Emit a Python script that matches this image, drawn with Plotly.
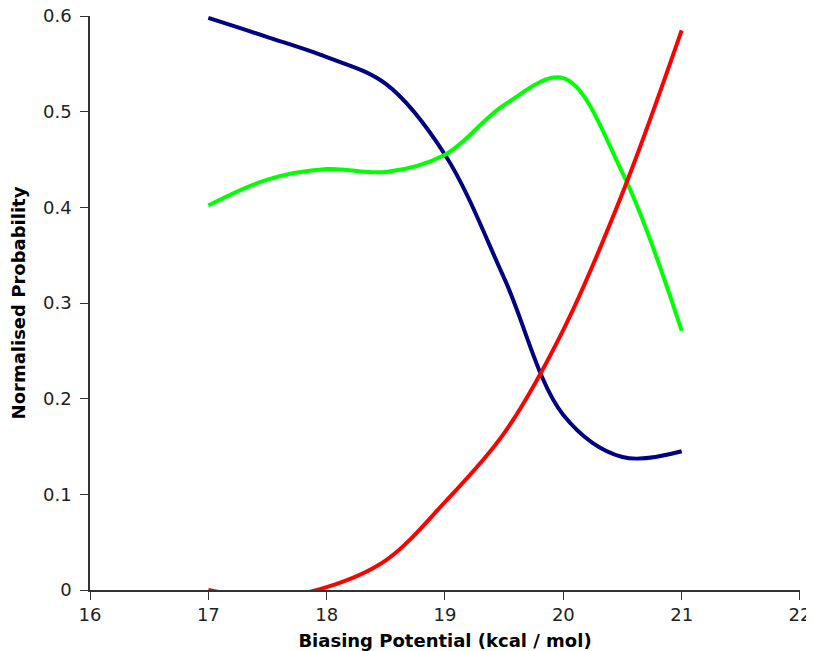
import plotly.graph_objects as go

x_vals = [17, 17.5, 18, 18.5, 19, 19.5, 20, 20.5, 21]
blue_vals = [0.598, 0.578, 0.557, 0.529, 0.455, 0.326, 0.183, 0.139, 0.145]
green_vals = [0.402, 0.429, 0.440, 0.437, 0.455, 0.507, 0.535, 0.436, 0.271]
red_vals = [0.0, -0.008, 0.003, 0.031, 0.092, 0.164, 0.272, 0.415, 0.585]

x_ticks = [16, 17, 18, 19, 20, 21, 22]
y_ticks = [0, 0.1, 0.2, 0.3, 0.4, 0.5, 0.6]
y_tick_text = ["0", "0.1", "0.2", "0.3", "0.4", "0.5", "0.6"]

fig = go.Figure()
for vals, col in [(blue_vals, "#000080"), (green_vals, "#00ff00"), (red_vals, "#ff0000")]:
    fig.add_trace(go.Scatter(x=x_vals, y=vals, mode="lines",
                             line=dict(color=col, width=4, shape="spline", smoothing=1),
                             showlegend=False))

axis_common = dict(showgrid=False, zeroline=False, showline=True, linecolor="#333333",
                   linewidth=1.5, ticks="outside", ticklen=8, tickcolor="#333333",
                   tickfont=dict(family="DejaVu Sans", size=18, color="#222222"),
                   layer="below traces", automargin=False, ticklabeloverflow="allow")
fig.update_xaxes(range=[16, 22.0001], tickvals=x_ticks, ticktext=[str(v) for v in x_ticks],
                 title=dict(text="<b>Biasing Potential (kcal / mol)</b>",
                            font=dict(family="DejaVu Sans", size=18, color="#000000"),
                            standoff=13),
                 **axis_common)
fig.update_yaxes(range=[0, 0.60001], tickvals=y_ticks, ticktext=y_tick_text,
                 ticklabelstandoff=5,
                 title=dict(text="<b>Normalised Probability</b>",
                            font=dict(family="DejaVu Sans", size=18, color="#000000"),
                            standoff=13),
                 **axis_common)
# page body has an 8px margin, so the figure is offset by 8px; compensate
fig.update_layout(width=806, height=643, plot_bgcolor="white", paper_bgcolor="white",
                  margin=dict(l=82, r=14, t=8, b=61))
fig.write_html("out.html")
